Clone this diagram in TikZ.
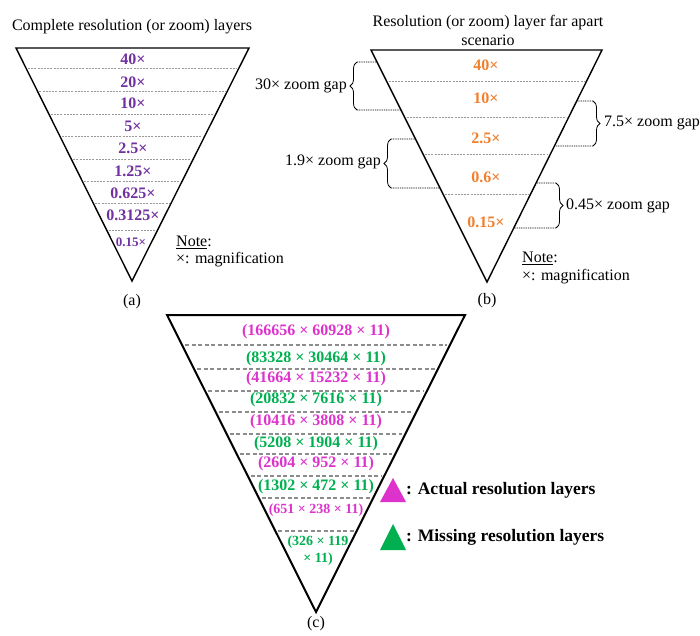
\documentclass[tikz,border=0pt]{standalone}
\usepackage{fontspec}
\setmainfont{Liberation Serif}
\usetikzlibrary{decorations.pathreplacing,calc}
\definecolor{zoompurple}{HTML}{7030A0}
\definecolor{zoomorange}{HTML}{F07F2E}
\definecolor{actualmag}{HTML}{DD33CC}
\definecolor{missgreen}{HTML}{00B050}
\begin{document}
\begin{tikzpicture}[x=1pt,y=-1pt,
  pyramid/.style={draw=black, line width=1.4pt, line join=miter},
  bigpyramid/.style={draw=black, line width=2pt, line join=miter},
  thinlayer/.style={draw=black!40, line width=0.8pt, dash pattern=on 2pt off 1.2pt, shorten <=2pt, shorten >=2pt},
  thicklayer/.style={draw=black!45, line width=1.6pt, dash pattern=on 4pt off 2.5pt, shorten <=3pt, shorten >=3pt},
  gapline/.style={draw=black, line width=0.8pt, dash pattern=on 1pt off 0.8pt},
  gapbrace/.style={draw=black, line width=0.8pt, decorate, decoration={brace, amplitude=7pt}},
  txt/.style={inner sep=0pt, font=\fontsize{16}{19}\selectfont},
  lvl/.style={inner sep=0pt, font=\fontsize{16}{19}\selectfont\bfseries},
  smalllvl/.style={inner sep=0pt, font=\fontsize{14}{17}\selectfont\bfseries, align=center},
  legendtxt/.style={inner sep=0pt, anchor=west, font=\fontsize{17.5}{20}\selectfont\bfseries},
]
\useasboundingbox (0,0) rectangle (700,635);

% ---------- (a) complete set of zoom layers ----------
\coordinate (aL) at (16,48);
\coordinate (aR) at (249,48);
\coordinate (aA) at (132,281);
\node[txt] (atitle) at (132,27) {Complete resolution (or zoom) layers};
\draw[pyramid] (aL) -- (aR) -- (aA) -- cycle;
\foreach \t in {0.0858,0.1845,0.2833,0.3777,0.4764,0.5708,0.6652,0.7811}
  \draw[thinlayer] ($(aL)!\t!(aA)$) -- ($(aR)!\t!(aA)$);
\foreach \y/\lab [count=\i] in {59/40×,82/20×,103/10×,126/5×,148/2.5×,171/1.25×,193/0.625×,215/0.3125×}
  \node[lvl, text=zoompurple] (al\i) at (133,\y) {\lab};
\node[inner sep=0pt, font=\fontsize{13}{15}\selectfont\bfseries, text=zoompurple] (al9) at (131,242) {0.15×};
\node[txt, anchor=west] (anote) at (176,242) {\underline{Note}:};
\node[txt, anchor=west] (anote2) at (176,260) {×: magnification};
\node[txt] (acap) at (132,302) {(a)};

% ---------- (b) layers far apart ----------
\coordinate (bL) at (371,50);
\coordinate (bR) at (602,50);
\coordinate (bA) at (487,282);
\node[txt, align=center] (btitle) at (488,30) {Resolution (or zoom) layer far apart\\scenario};
\draw[pyramid] (bL) -- (bR) -- (bA) -- cycle;
\foreach \t in {0.1336,0.2888,0.4483,0.6207}
  \draw[thinlayer] ($(bL)!\t!(bA)$) -- ($(bR)!\t!(bA)$);
\foreach \y/\lab [count=\i] in {65/40×,98/10×,138/2.5×,177/0.6×,222/0.15×}
  \node[lvl, text=zoomorange] (bl\i) at (486,\y) {\lab};

% gap braces
\coordinate (g1t) at (357,62);
\coordinate (g1b) at (357,110);
\draw[gapline] (g1t) -- ($(bL)!0.0517!(bA)$);
\draw[gapline] (g1b) -- ($(bL)!0.2586!(bA)$);
\draw[gapbrace] (g1b) -- (g1t);
\node[txt, anchor=east] (g1lab) at (347,86) {30× zoom gap};

\coordinate (g2t) at (593,101);
\coordinate (g2b) at (593,146);
\draw[gapline] (g2t) -- ($(bR)!0.2198!(bA)$);
\draw[gapline] (g2b) -- ($(bR)!0.4138!(bA)$);
\draw[gapbrace] (g2t) -- (g2b);
\node[txt, anchor=west] (g2lab) at (604,123) {7.5× zoom gap};

\coordinate (g3t) at (391,139);
\coordinate (g3b) at (391,188);
\draw[gapline] (g3t) -- ($(bL)!0.3836!(bA)$);
\draw[gapline] (g3b) -- ($(bL)!0.5948!(bA)$);
\draw[gapbrace] (g3b) -- (g3t);
\node[txt, anchor=east] (g3lab) at (381,162) {1.9× zoom gap};

\coordinate (g4t) at (556,183);
\coordinate (g4b) at (556,228);
\draw[gapline] (g4t) -- ($(bR)!0.5733!(bA)$);
\draw[gapline] (g4b) -- ($(bR)!0.7672!(bA)$);
\draw[gapbrace] (g4t) -- (g4b);
\node[txt, anchor=west] (g4lab) at (566,206) {0.45× zoom gap};

\node[txt, anchor=west] (bnote) at (522,258) {\underline{Note}:};
\node[txt, anchor=west] (bnote2) at (522,277) {×: magnification};
\node[txt] (bcap) at (487,301) {(b)};

% ---------- (c) image sizes per layer ----------
\coordinate (cL) at (167,315);
\coordinate (cR) at (465,315);
\coordinate (cA) at (316,612);
\draw[bigpyramid] (cL) -- (cR) -- (cA) -- cycle;
\foreach \t in {0.1010,0.1818,0.2559,0.3266,0.4007,0.4680,0.5421,0.6162,0.7273}
  \draw[thicklayer] ($(cL)!\t!(cA)$) -- ($(cR)!\t!(cA)$);
\node[lvl, text=actualmag] (c1) at (316,332) {(166656 × 60928 × 11)};
\node[lvl, text=missgreen] (c2) at (316,359) {(83328 × 30464 × 11)};
\node[lvl, text=actualmag] (c3) at (316,379) {(41664 × 15232 × 11)};
\node[lvl, text=missgreen] (c4) at (316,400) {(20832 × 7616 × 11)};
\node[lvl, text=actualmag] (c5) at (316,422) {(10416 × 3808 × 11)};
\node[lvl, text=missgreen] (c6) at (316,444) {(5208 × 1904 × 11)};
\node[lvl, text=actualmag] (c7) at (316,464) {(2604 × 952 × 11)};
\node[lvl, text=missgreen] (c8) at (316,487) {(1302 × 472 × 11)};
\node[smalllvl, text=actualmag] (c9) at (316,510) {(651 × 238 × 11)};
\node[smalllvl, text=missgreen] (c10) at (318,551) {(326 × 119\\× 11)};
\node[txt] (ccap) at (316,624) {(c)};

% legend
\fill[actualmag] (380,502) -- (406,502) -- (393,478) -- cycle;
\node[legendtxt] (leg1) at (406,490) {: Actual resolution layers};
\fill[missgreen] (380,550) -- (406,550) -- (393,524) -- cycle;
\node[legendtxt] (leg2) at (406,537) {: Missing resolution layers};
\end{tikzpicture}
\end{document}
